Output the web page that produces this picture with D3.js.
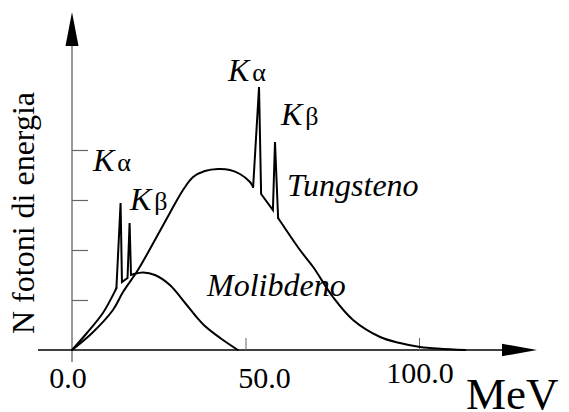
<!DOCTYPE html>
<html>
<head>
<meta charset="utf-8">
<script src="https://cdn.jsdelivr.net/npm/d3@7"></script>
<style>
  body { margin: 0; background: #fff; }
  svg { display: block; }
  text { font-family: "Liberation Serif", "Times New Roman", "DejaVu Serif", serif; fill: #000; }
</style>
</head>
<body>
<div id="chart"></div>
<script>
// energy (MeV) and photon count
var tungstenE = [0, 5.8, 11.8, 14.7, 19.0, 23.9, 28.2, 32.0, 34.9, 38.3, 42.1, 45.5, 48.4, 51.3, 52.2, 53.9, 54.5, 57.9, 58.5, 59.4, 65.7, 69.5, 75.2, 81.0, 88.8, 94.5, 100.3, 113.3];
var tungstenN = [0, 0.34, 0.80, 1.16, 1.60, 2.20, 2.74, 3.20, 3.46, 3.58, 3.62, 3.60, 3.52, 3.36, 3.26, 5.26, 3.12, 2.80, 4.16, 2.64, 2.00, 1.66, 1.06, 0.60, 0.26, 0.14, 0.06, 0];

var molybdE = [0, 4.3, 8.9, 12.4, 12.8, 14.0, 14.4, 16.0, 16.6, 17.0, 17.9, 20.5, 23.9, 28.2, 32.6, 35.4, 38.3, 42.7, 47.8];
var molybdN = [0, 0.34, 0.74, 1.18, 1.24, 2.94, 1.36, 1.44, 2.54, 1.50, 1.52, 1.55, 1.50, 1.30, 0.94, 0.70, 0.48, 0.24, 0];

// index ranges of the K lines (drawn straight, the rest is smoothed)
var tungstenPeaks = [14, 19];
var molybdPeaks = [4, 10];

var xTicks = [0, 50, 100];
var xTickLabels = ["0.0", "50.0", "100.0"];
var yTicks = [1, 2, 3, 4];

var width = 569, height = 412;
var serif = "'Liberation Serif', 'Times New Roman', serif";

var svg = d3.select("#chart")
  .append("svg")
    .attr("width", width)
    .attr("height", height);

var x = d3.scaleLinear().domain([0, 100]).range([72, 419]);
var y = d3.scaleLinear().domain([0, 1]).range([350, 300]);

// axis lines
svg.append("line")
  .attr("x1", 38).attr("x2", 505)
  .attr("y1", y(0)).attr("y2", y(0))
  .attr("stroke", "#000").attr("stroke-width", 1.3);
svg.append("line")
  .attr("x1", x(0)).attr("x2", x(0))
  .attr("y1", 362).attr("y2", 40)
  .attr("stroke", "#777").attr("stroke-width", 1.5);

// arrow heads
svg.append("path")
  .attr("d", "M502," + (y(0) - 6.3) + "L537," + y(0) + "L502," + (y(0) + 6.3) + "Z")
  .attr("fill", "#000");
svg.append("path")
  .attr("d", "M" + (x(0) - 6.5) + ",46L" + x(0) + ",12L" + (x(0) + 6.5) + ",46Z")
  .attr("fill", "#000");

// ticks
svg.append("g")
  .attr("transform", "translate(" + x(0) + ",0)")
  .call(d3.axisRight(y).tickValues(yTicks).tickSize(16).tickFormat(""))
  .call(function(g) { g.select(".domain").remove(); })
  .selectAll("line").attr("stroke", "#666").attr("stroke-width", 1.2);

svg.append("g")
  .attr("transform", "translate(0," + y(0) + ")")
  .call(d3.axisTop(x).tickValues(xTicks.slice(1)).tickSize(12).tickFormat(""))
  .call(function(g) { g.select(".domain").remove(); })
  .selectAll("line").attr("stroke", "#666").attr("stroke-width", 1);

// tick labels sit a little off their ticks in the original
var labelDx = [-4, 19, 1];
var labelY = [388, 388, 383];
svg.selectAll(".xlab")
  .data(xTicks)
  .enter().append("text")
    .attr("class", "xlab")
    .attr("x", function(d, i) { return x(d) + labelDx[i]; })
    .attr("y", function(d, i) { return labelY[i]; })
    .attr("text-anchor", "middle")
    .attr("font-family", serif)
    .style("font-size", "30px")
    .text(function(d, i) { return xTickLabels[i]; });

svg.append("text")
  .attr("x", 466).attr("y", 409)
  .attr("font-family", serif)
  .style("font-size", "45px")
  .text("MeV");

svg.append("text")
  .attr("transform", "translate(34,213) rotate(-90)")
  .attr("text-anchor", "middle")
  .attr("font-family", serif)
  .style("font-size", "32px")
  .text("N fotoni di energia");

// spectra: smooth continuum, straight K lines
function drawSpectrum(es, ns, peaks) {
  var pts = d3.zip(es, ns);
  var smooth = d3.line()
    .x(function(d) { return x(d[0]); })
    .y(function(d) { return y(d[1]); })
    .curve(d3.curveCatmullRom.alpha(0.5));
  var straight = d3.line()
    .x(function(d) { return x(d[0]); })
    .y(function(d) { return y(d[1]); });
  var parts = [
    [smooth, pts.slice(0, peaks[0] + 1)],
    [straight, pts.slice(peaks[0], peaks[1] + 1)],
    [smooth, pts.slice(peaks[1])]
  ];
  parts.forEach(function(p) {
    svg.append("path")
      .datum(p[1])
      .attr("d", p[0])
      .attr("fill", "none")
      .attr("stroke", "#000")
      .attr("stroke-width", 2)
      .attr("stroke-linejoin", "miter")
      .attr("stroke-linecap", "round");
  });
}
drawSpectrum(tungstenE, tungstenN, tungstenPeaks);
drawSpectrum(molybdE, molybdN, molybdPeaks);

// annotations
function kLabel(px, py, greek) {
  var t = svg.append("text").attr("x", px).attr("y", py)
    .attr("font-family", serif).style("font-size", "32px");
  t.append("tspan").style("font-style", "italic").text("K");
  t.append("tspan").attr("dx", 3).style("font-size", "26px").text(greek);
}
kLabel(93, 171, "α");
kLabel(130, 210, "β");
kLabel(228, 81, "α");
kLabel(281, 125, "β");

svg.append("text")
  .attr("x", 287).attr("y", 196)
  .attr("font-family", serif)
  .style("font-size", "32px").style("font-style", "italic")
  .text("Tungsteno");

svg.append("text")
  .attr("x", 207).attr("y", 296)
  .attr("font-family", serif)
  .style("font-size", "32px").style("font-style", "italic")
  .text("Molibdeno");
</script>
</body>
</html>
